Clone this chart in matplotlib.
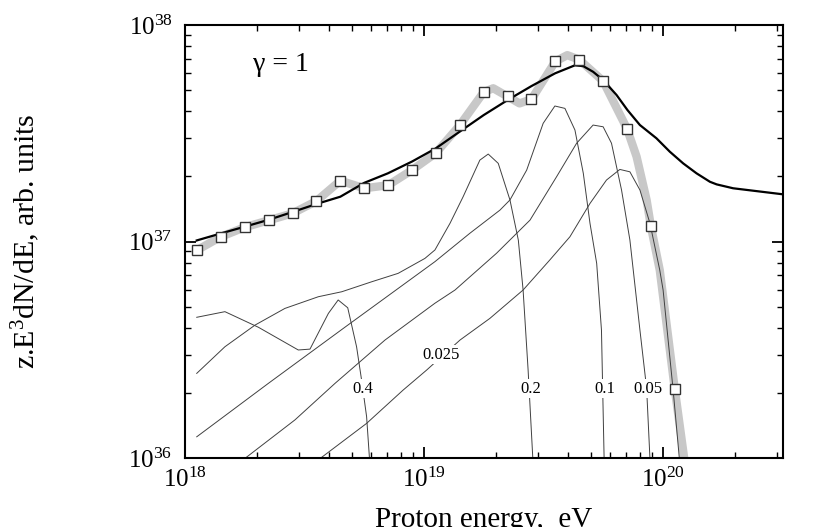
import numpy as np
import matplotlib
matplotlib.use('Agg')
import matplotlib.pyplot as plt

# 字体：Times 风格
plt.rcParams['font.family'] = ['Liberation Serif', 'DejaVu Serif']
plt.rcParams['mathtext.fontset'] = 'custom'
plt.rcParams['mathtext.rm'] = 'Liberation Serif'
plt.rcParams['mathtext.it'] = 'Liberation Serif:italic'

# 数据（log10 E [eV], log10 flux）
sq_logE = [18.05, 18.15, 18.25, 18.35, 18.45, 18.55, 18.65, 18.75, 18.85, 18.95, 19.05,
           19.15, 19.25, 19.35, 19.45, 19.55, 19.65, 19.75, 19.85, 19.95, 20.05]
sq_logF = [36.96, 37.022, 37.066, 37.098, 37.13, 37.187, 37.281, 37.246, 37.26, 37.33, 37.409,
           37.537, 37.69, 37.67, 37.657, 37.832, 37.84, 37.741, 37.521, 37.07, 36.317]

band_logE = [18.05, 18.15, 18.25, 18.35, 18.45, 18.55, 18.65, 18.75, 18.85, 18.95, 19.05,
             19.15, 19.25, 19.29, 19.35, 19.40, 19.45, 19.55, 19.60, 19.65, 19.75, 19.85,
             19.89, 19.932, 19.95, 19.987, 20.05, 20.096]
band_logF = [36.96, 37.022, 37.066, 37.098, 37.13, 37.187, 37.281, 37.246, 37.26, 37.33, 37.409,
             37.537, 37.69, 37.708, 37.67, 37.638, 37.657, 37.832, 37.861, 37.84, 37.741, 37.521,
             37.392, 37.192, 37.07, 36.868, 36.317, 35.945]

total_logE = [18.049, 18.149, 18.251, 18.349, 18.449, 18.549, 18.65, 18.75, 18.849, 18.951,
              19.049, 19.149, 19.25, 19.351, 19.45, 19.549, 19.632, 19.667, 19.708, 19.75,
              19.806, 19.852, 19.904, 19.973, 20.029, 20.085, 20.141, 20.197, 20.225, 20.294,
              20.503]
total_logF = [37.005, 37.037, 37.069, 37.1, 37.136, 37.173, 37.207, 37.271, 37.315, 37.37,
              37.43, 37.507, 37.584, 37.654, 37.718, 37.777, 37.814, 37.81, 37.784, 37.746,
              37.677, 37.607, 37.538, 37.477, 37.415, 37.361, 37.315, 37.276, 37.264, 37.246,
              37.218]

# 各 z 分量
z04_logE = [18.049, 18.167, 18.307, 18.474, 18.523, 18.600, 18.641, 18.681, 18.718, 18.739, 18.760, 18.775]
z04_logF = [36.650, 36.676, 36.604, 36.499, 36.503, 36.668, 36.730, 36.694, 36.514, 36.360, 36.191, 35.95]

z02_logE = [18.049, 18.167, 18.293, 18.418, 18.558, 18.656, 18.781, 18.892, 19.004, 19.046,
            19.109, 19.164, 19.234, 19.269, 19.311, 19.360, 19.395, 19.415, 19.436, 19.458]
z02_logF = [36.391, 36.514, 36.614, 36.691, 36.745, 36.768, 36.814, 36.853, 36.922, 36.961,
            37.084, 37.207, 37.376, 37.404, 37.361, 37.192, 37.007, 36.776, 36.406, 35.95]

z01_logE = [18.049, 18.349, 18.669, 18.837, 19.046, 19.192, 19.318, 19.360, 19.430, 19.499,
            19.548, 19.590, 19.632, 19.667, 19.695, 19.723, 19.743, 19.755]
z01_logF = [36.098, 36.345, 36.604, 36.739, 36.907, 37.038, 37.145, 37.192, 37.330, 37.546,
            37.626, 37.615, 37.515, 37.315, 37.084, 36.899, 36.591, 35.95]

z005_logE = [18.188, 18.460, 18.628, 18.837, 19.046, 19.130, 19.304, 19.444, 19.555, 19.639,
             19.708, 19.750, 19.785, 19.827, 19.862, 19.904, 19.932, 19.948]
z005_logF = [35.945, 36.176, 36.345, 36.545, 36.715, 36.776, 36.946, 37.099, 37.299, 37.454,
             37.538, 37.530, 37.454, 37.238, 37.007, 36.591, 36.322, 35.95]

z0025_logE = [18.502, 18.760, 18.913, 19.011, 19.151, 19.276, 19.415, 19.527, 19.611, 19.695,
              19.764, 19.820, 19.862, 19.904, 19.946, 19.987, 20.001, 20.043, 20.073]
z0025_logF = [35.945, 36.160, 36.314, 36.406, 36.545, 36.645, 36.776, 36.915, 37.022, 37.176,
              37.284, 37.333, 37.322, 37.238, 37.084, 36.868, 36.776, 36.314, 35.95]

comp_labels = ['0.4', '0.2', '0.1', '0.05', '0.025']
label_logE = [18.745, 19.449, 19.758, 19.936, 19.070]
label_logF = [36.32, 36.32, 36.32, 36.32, 36.478]


def p(a):
    return 10 ** np.array(a)


fig = plt.figure(figsize=(8.22, 5.27), dpi=100)
ax = fig.add_axes([0.2251, 0.1309, 0.7275, 0.8216])

ax.plot(p(band_logE), p(band_logF), color='#c8c8c8', lw=6.0, solid_capstyle='butt', zorder=1)
for xs, ys in [(z04_logE, z04_logF), (z02_logE, z02_logF), (z01_logE, z01_logF),
               (z005_logE, z005_logF), (z0025_logE, z0025_logF)]:
    ax.plot(p(xs), p(ys), color='#404040', lw=0.7, zorder=2)
ax.plot(p(total_logE), p(total_logF), color='black', lw=1.6, zorder=3)
ax.plot(p(sq_logE), p(sq_logF), ls='none', marker='s', ms=7, mfc='white', mec='#333333',
        mew=1.0, zorder=4)

for t, lx, ly in zip(comp_labels, label_logE, label_logF):
    ax.text(10 ** lx, 10 ** ly, t, fontsize=12, ha='center', va='center', zorder=5,
            bbox=dict(facecolor='white', edgecolor='none', pad=1.0))

ax.text(0.113, 0.893, 'γ = 1', transform=ax.transAxes, fontsize=20)

ax.set_xscale('log')
ax.set_yscale('log')
ax.set_xlim(1e18, 10 ** 20.503)
ax.set_ylim(1e36, 1e38)

ax.tick_params(which='both', direction='in', top=True, right=True)
ax.tick_params(which='major', length=8, width=1.3, labelsize=18)
ax.tick_params(which='minor', length=4.5, width=1.0)
ax.tick_params(axis='x', pad=7)
ax.tick_params(axis='y', pad=9)
for s in ax.spines.values():
    s.set_linewidth(1.5)

ax.set_xlabel('Proton energy,  eV', fontsize=21)
ax.set_ylabel(r'z.E$^3$dN/dE, arb. units', fontsize=21.5)
ax.xaxis.set_label_coords(0.5, -0.113)
ax.yaxis.set_label_coords(-0.239, 0.5)

fig.savefig('out.png', dpi=100)
